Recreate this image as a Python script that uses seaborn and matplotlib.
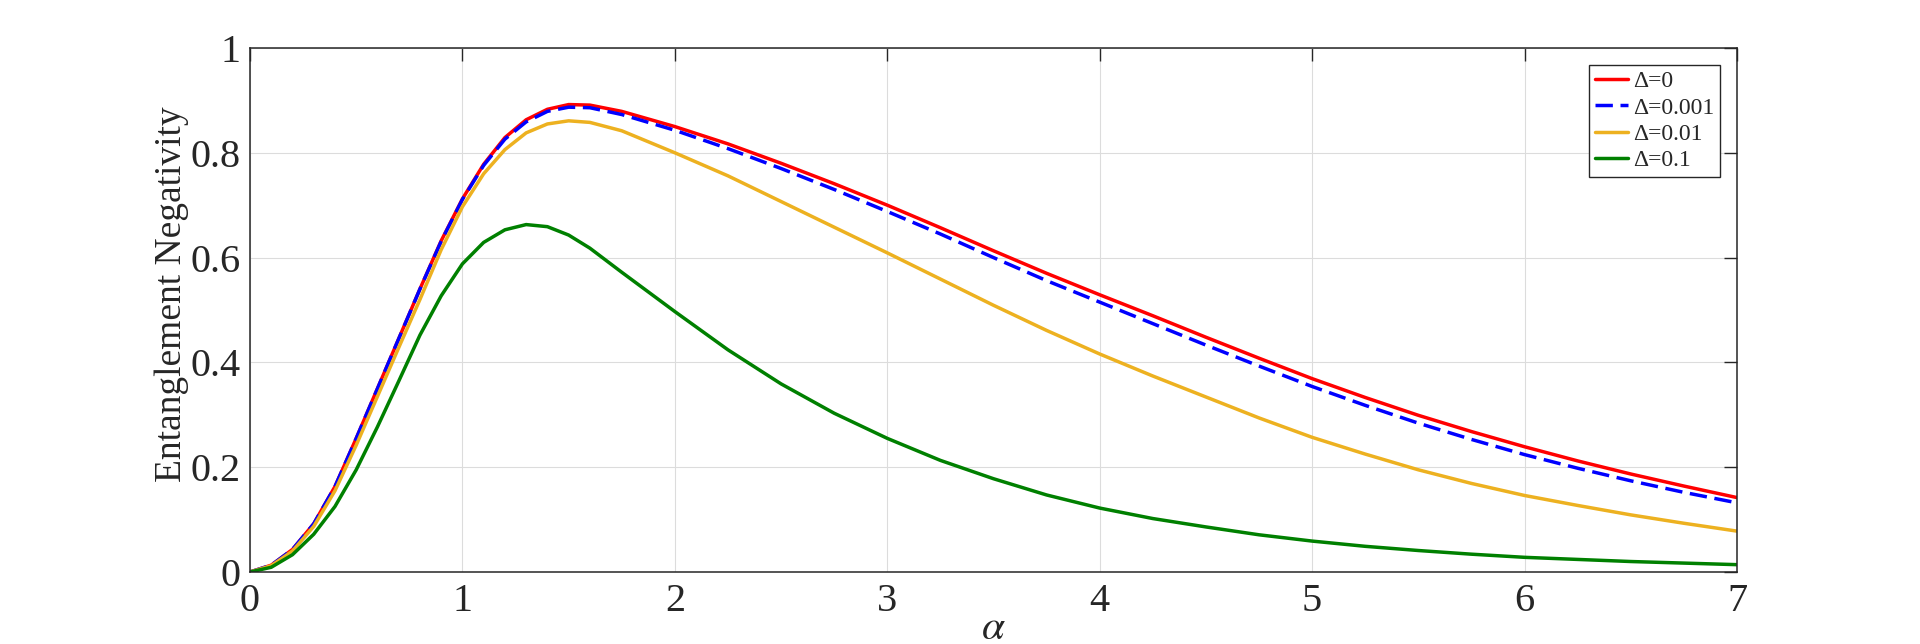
import numpy as np
import pandas as pd
import matplotlib
matplotlib.use('Agg')
import matplotlib.pyplot as plt
import seaborn as sns

# values
alpha = [0, 0.1, 0.2, 0.3, 0.4, 0.5, 0.6, 0.7, 0.8, 0.9, 1.0, 1.1, 1.2, 1.3, 1.4, 1.5, 1.6, 1.75,
         2.0, 2.25, 2.5, 2.75, 3.0, 3.25, 3.5, 3.75, 4.0, 4.25, 4.5, 4.75, 5.0, 5.25, 5.5, 5.75,
         6.0, 6.25, 6.5, 6.75, 7.0]

en_d0 = [0, 0.013, 0.043, 0.092, 0.163, 0.255, 0.35, 0.445, 0.54, 0.632, 0.712, 0.778, 0.829, 0.863,
         0.883, 0.892, 0.891, 0.879, 0.85, 0.817, 0.780, 0.741, 0.700, 0.657, 0.613, 0.570, 0.529,
         0.489, 0.448, 0.408, 0.369, 0.333, 0.299, 0.268, 0.239, 0.212, 0.187, 0.164, 0.142]

en_d0001 = [0, 0.013, 0.043, 0.092, 0.163, 0.255, 0.35, 0.445, 0.54, 0.631, 0.711, 0.776, 0.826, 0.859,
            0.879, 0.887, 0.886, 0.873, 0.843, 0.808, 0.770, 0.730, 0.688, 0.645, 0.600, 0.556, 0.515,
            0.474, 0.433, 0.393, 0.354, 0.318, 0.284, 0.253, 0.224, 0.198, 0.174, 0.152, 0.132]

en_d001 = [0, 0.012, 0.04, 0.087, 0.155, 0.242, 0.335, 0.428, 0.52, 0.615, 0.697, 0.76, 0.806, 0.838,
           0.855, 0.861, 0.858, 0.842, 0.80, 0.756, 0.707, 0.658, 0.609, 0.559, 0.509, 0.461, 0.416,
           0.374, 0.334, 0.294, 0.257, 0.225, 0.195, 0.169, 0.146, 0.127, 0.109, 0.093, 0.078]

en_d01 = [0, 0.009, 0.033, 0.072, 0.125, 0.195, 0.277, 0.364, 0.452, 0.527, 0.588, 0.629, 0.653, 0.663,
          0.659, 0.643, 0.618, 0.572, 0.497, 0.424, 0.359, 0.303, 0.255, 0.213, 0.178, 0.147, 0.122,
          0.102, 0.086, 0.071, 0.059, 0.049, 0.041, 0.034, 0.028, 0.024, 0.020, 0.017, 0.014]

labels = ['Δ=0', 'Δ=0.001', 'Δ=0.01', 'Δ=0.1']
series = [en_d0, en_d0001, en_d001, en_d01]
colors = ['#ff0000', '#0000ff', '#edb120', '#008000']
styles = ['-', (0, (5, 2.2)), '-', '-']

sns.set_style('white')
plt.rcParams['font.family'] = ['Liberation Serif', 'DejaVu Serif']
plt.rcParams['mathtext.fontset'] = 'stix'

fig = plt.figure(figsize=(19.2, 6.44), dpi=100)
ax = fig.add_axes([0.1302, 0.1118, 0.7745, 0.8137])

for vals, lab, col, ls in zip(series, labels, colors, styles):
    df = pd.DataFrame({'alpha': alpha, 'EN': vals})
    sns.lineplot(data=df, x='alpha', y='EN', color=col, linewidth=2.5,
                 linestyle=ls, label=lab, ax=ax)

ax.set_xlim(0, 7)
ax.set_ylim(0, 1)
ax.set_xticks(range(0, 8))
ax.set_yticks([0, 0.2, 0.4, 0.6, 0.8, 1])
ax.set_yticklabels(['0', '0.2', '0.4', '0.6', '0.8', '1'])
ax.grid(True, color='#dcdcdc', linewidth=0.8)
ax.set_axisbelow(True)

for s in ax.spines.values():
    s.set_visible(True)
    s.set_color('#262626')
    s.set_linewidth(1.1)

ax.tick_params(axis='both', direction='in', length=9.5, width=1.0, colors='#262626',
               top=True, right=True, labelsize=29)
ax.tick_params(axis='y', pad=7)
ax.tick_params(axis='x', pad=8)

ax.set_xlabel(r'$\alpha$', fontsize=30, color='#262626', labelpad=-8)
ax.set_ylabel('Entanglement Negativity', fontsize=27, color='#262626', labelpad=1)
ax.yaxis.label.set_y(0.53)

leg = ax.legend(loc='upper right', fontsize=17, frameon=True, fancybox=False,
                framealpha=1, edgecolor='#262626', borderaxespad=0.72,
                handlelength=1.4, handletextpad=0.2, labelspacing=0.2,
                borderpad=0.25)
leg.get_frame().set_linewidth(1.0)

plt.savefig('out.png', dpi=100)
